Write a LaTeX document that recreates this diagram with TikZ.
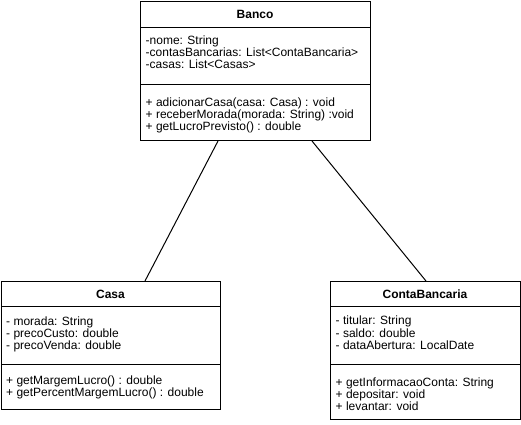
\documentclass[tikz,border=0pt]{standalone}
\usepackage{fontspec}
\setmainfont{Liberation Sans}
\usetikzlibrary{calc}
\begin{document}
\begin{tikzpicture}[x=1pt,y=-1pt,
  umlbox/.style={draw, line width=1pt, inner sep=0pt, anchor=north west, fill=white},
  sep/.style={line width=1pt},
  assoc/.style={line width=1pt},
  ctitle/.style={font=\fontsize{12}{14}\selectfont\bfseries, anchor=base, inner sep=0pt},
  cbody/.style={font=\fontsize{12}{12.2}\selectfont, anchor=north west, align=left, inner sep=0pt, execute at begin node=\strut}
]
\useasboundingbox (0,0) rectangle (521,424);

% Banco
\node[umlbox, minimum width=230pt, minimum height=139pt] (banco) at (140,1) {};
\draw[sep] ($(banco.north west)+(0,26)$) -- ($(banco.north east)+(0,26)$);
\draw[sep] ($(banco.north west)+(0,83)$) -- ($(banco.north east)+(0,83)$);
\node[ctitle] (bancot) at (255,18) {Banco};
\node[cbody] (bancoa) at (145.5,35.46) {-nome: String\\-contasBancarias: List<ContaBancaria>\\-casas: List<Casas>};
\node[cbody] (bancom) at (145.5,97.46) {+ adicionarCasa(casa: Casa) : void\\+ receberMorada(morada: String) :void\\+ getLucroPrevisto() : double};

% Casa
\node[umlbox, minimum width=219pt, minimum height=128pt] (casa) at (1,281) {};
\draw[sep] ($(casa.north west)+(0,25)$) -- ($(casa.north east)+(0,25)$);
\draw[sep] ($(casa.north west)+(0,83)$) -- ($(casa.north east)+(0,83)$);
\node[ctitle] (casat) at (110.5,298) {Casa};
\node[cbody] (casaa) at (6,316.16) {- morada: String\\- precoCusto: double\\- precoVenda: double};
\node[cbody] (casam) at (6,375.46) {+ getMargemLucro() : double\\+ getPercentMargemLucro() : double};

% ContaBancaria
\node[umlbox, minimum width=190pt, minimum height=138pt] (conta) at (330,281) {};
\draw[sep] ($(conta.north west)+(0,25)$) -- ($(conta.north east)+(0,25)$);
\draw[sep] ($(conta.north west)+(0,83)$) -- ($(conta.north east)+(0,83)$);
\node[ctitle] (contat) at (425,298) {ContaBancaria};
\node[cbody] (contaa) at (335.5,315.96) {- titular: String\\- saldo: double\\- dataAbertura: LocalDate};
\node[cbody] (contam) at (335.5,377.46) {+ getInformacaoConta: String\\+ depositar: void\\+ levantar: void};

% associations
\draw[assoc] ($(banco.south west)+(78,0)$) -- ($(casa.north west)+(144,0)$);
\draw[assoc] ($(banco.south west)+(172,0)$) -- ($(conta.north west)+(96,0)$);
\end{tikzpicture}
\end{document}
